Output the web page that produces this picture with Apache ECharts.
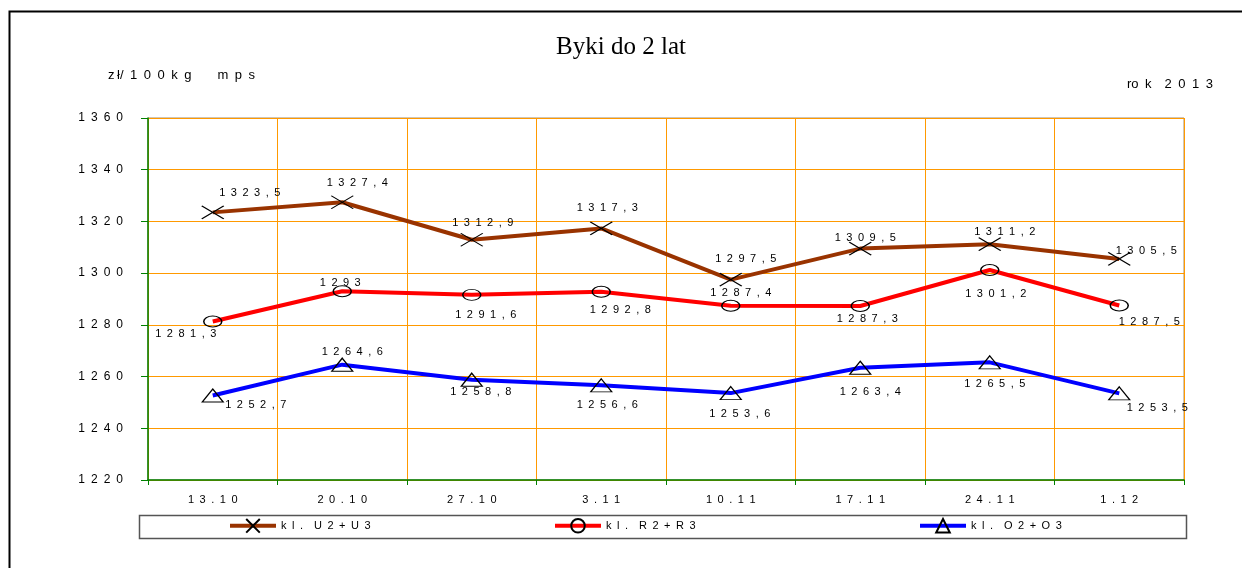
<!DOCTYPE html>
<html>
<head>
<meta charset="utf-8">
<script src="https://cdn.jsdelivr.net/npm/echarts@6/dist/echarts.min.js"></script>
<style>
  html, body { margin: 0; padding: 0; background: #fff; }
  #chart { width: 1242px; height: 568px; }
</style>
</head>
<body>
<div id="chart"></div>
<script>
var categories = ['13.10', '20.10', '27.10', '3.11', '10.11', '17.11', '24.11', '1.12'];
var seriesNames = ['kl. U2+U3', 'kl. R2+R3', 'kl. O2+O3'];
var valuesU = [1323.5, 1327.4, 1312.9, 1317.3, 1297.5, 1309.5, 1311.2, 1305.5];
var valuesR = [1281.3, 1293, 1291.6, 1292.8, 1287.4, 1287.3, 1301.2, 1287.5];
var valuesO = [1252.7, 1264.6, 1258.8, 1256.6, 1253.6, 1263.4, 1265.5, 1253.5];
var yMin = 1220, yMax = 1360, yStep = 20;

// label offsets (px) per point, to mimic the original label placement
var offU = [[37, -19], [15, -19], [11, -17], [6, -20], [15, -21], [5, -11], [15, -12], [27, -8]];
var offR = [[-27, 12], [-2, -8], [14, 20], [19, 18], [10, -13], [7, 13], [6, 24], [30, 17]];
var offO = [[43, 10], [10, -13], [9, 12], [6, 20], [9, 21], [10, 24], [5, 22], [38, 15]];

var SP = '\u2002';
function spaced(s) {
    return String(s).split('').join(SP);
}
function fmt(v) {
    return spaced(String(v).replace('.', ','));
}

function points(values, offs) {
    return values.map(function (v, i) {
        return {
            value: v,
            label: { offset: offs[i] }
        };
    });
}

var crossPath = 'path://M0,0L22,13M0,13L22,0';

function makeSeries(name, values, offs, color, symbol, size) {
    return {
        name: name,
        type: 'line',
        data: points(values, offs),
        symbol: symbol,
        symbolSize: size,
        showAllSymbol: true,
        lineStyle: { color: color, width: 4 },
        itemStyle: { color: 'transparent', borderColor: '#000', borderWidth: 1.2 },
        label: {
            show: true,
            position: 'inside',
            align: 'center',
            verticalAlign: 'middle',
            color: '#000',
            fontFamily: 'Liberation Sans, Arial',
            fontSize: 11,
            formatter: function (p) { return fmt(p.value); }
        },
        emphasis: { disabled: true },
        z: 3
    };
}

function legendAt(left, name) {
    return {
        data: [name],
        left: left,
        top: 518,
        padding: 0,
        itemWidth: 46,
        itemHeight: 17,
        itemGap: 4,
        selectedMode: false,
        lineStyle: { width: 4 },
        textStyle: { fontFamily: 'Liberation Sans, Arial', fontSize: 11, color: '#000' },
        formatter: function (n) { return spaced(n.replace('. ', '.')).replace('.', '.' + SP); }
    };
}

var chart = echarts.init(document.getElementById('chart'));
chart.setOption({
    animation: false,
    backgroundColor: '#fff',
    title: {
        text: 'Byki do 2 lat',
        left: 'center',
        top: 30,
        textStyle: { fontFamily: 'Liberation Serif, Times New Roman', fontSize: 25, fontWeight: 'normal', color: '#000' }
    },
    graphic: [
        {
            type: 'rect',
            shape: { x: 9.5, y: 11.5, width: 1400, height: 700 },
            style: { fill: 'none', stroke: '#000', lineWidth: 2 },
            silent: true
        },
        {
            type: 'rect',
            shape: { x: 139.5, y: 515.5, width: 1047, height: 23 },
            style: { fill: 'none', stroke: '#555', lineWidth: 1.5 },
            silent: true,
            z: -1
        },
        {
            type: 'text',
            left: 108,
            top: 69,
            style: {
                text: 'z\u2009ł/' + SP + spaced('100kg') + SP + SP + SP + SP + spaced('mps'),
                font: '13px Liberation Sans, Arial',
                fill: '#000'
            }
        },
        {
            type: 'text',
            right: 29,
            top: 78,
            style: {
                text: 'ro' + SP + 'k' + SP + SP + spaced('2013'),
                font: '13px Liberation Sans, Arial',
                fill: '#000'
            }
        }
    ],
    legend: [
        legendAt(228, seriesNames[0]),
        legendAt(553, seriesNames[1]),
        legendAt(918, seriesNames[2])
    ],
    grid: {
        left: 148,
        right: 58,
        top: 118,
        bottom: 88,
        show: true,
        borderColor: '#a08c6e',
        borderWidth: 1
    },
    xAxis: {
        type: 'category',
        data: categories,
        boundaryGap: true,
        axisLine: { lineStyle: { color: '#008000', width: 1.5 } },
        axisTick: { show: true, length: 5, interval: 0, lineStyle: { color: '#008000' } },
        axisLabel: {
            margin: 14,
            interval: 0,
            color: '#000',
            fontFamily: 'Liberation Sans, Arial',
            fontSize: 11,
            formatter: function (v) { return spaced(v); }
        },
        splitLine: { show: true, interval: 0, lineStyle: { color: '#ff9900', width: 1 } }
    },
    yAxis: {
        type: 'value',
        min: yMin,
        max: yMax,
        interval: yStep,
        axisLine: { show: true, lineStyle: { color: '#008000', width: 1.5 } },
        axisTick: { show: true, inside: false, length: 7, lineStyle: { color: '#008000' } },
        axisLabel: {
            margin: 25,
            color: '#000',
            fontFamily: 'Liberation Sans, Arial',
            fontSize: 12,
            formatter: function (v) { return spaced(v); }
        },
        splitLine: { show: true, lineStyle: { color: '#ff9900', width: 1 } }
    },
    series: [
        makeSeries(seriesNames[0], valuesU, offU, '#993300', crossPath, [22, 13]),
        makeSeries(seriesNames[1], valuesR, offR, '#ff0000', 'circle', [18, 11]),
        makeSeries(seriesNames[2], valuesO, offO, '#0000ff', 'triangle', [21, 13])
    ]
});
</script>
</body>
</html>
